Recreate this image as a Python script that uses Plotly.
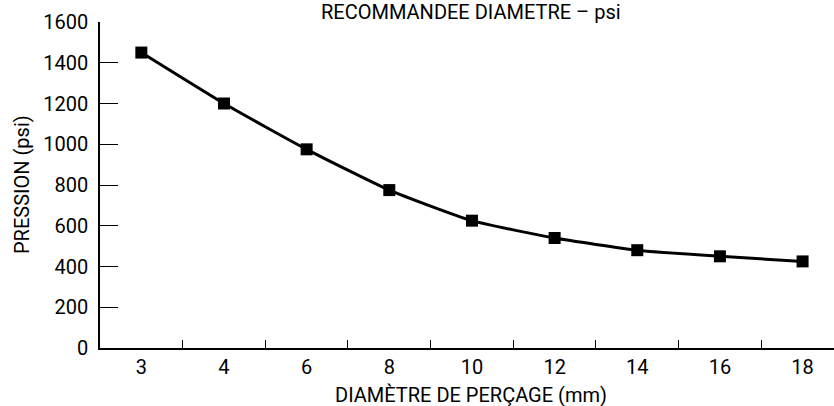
import plotly.graph_objects as go

diametres = ["3", "4", "6", "8", "10", "12", "14", "16", "18"]
pression = [1450, 1200, 975, 775, 625, 540, 480, 450, 425]
y_ticks = [0, 200, 400, 600, 800, 1000, 1200, 1400, 1600]

FONT = "Roboto, Liberation Sans Narrow, sans-serif"
FS = 20

fig = go.Figure()
fig.add_trace(go.Scatter(
    x=diametres, y=pression, mode="lines+markers",
    line=dict(color="black", width=3, shape="spline", smoothing=0.5),
    marker=dict(symbol="square", size=12, color="black"),
    showlegend=False,
))

fig.update_layout(
    width=834, height=406,
    margin=dict(l=100, r=0, t=22, b=58),
    plot_bgcolor="white", paper_bgcolor="white",
    font=dict(family=FONT, size=FS, color="black"),
    xaxis=dict(
        type="category", range=[-0.5, 8.38],
        showline=True, linecolor="black", linewidth=1.5,
        ticks="inside", tickson="boundaries", ticklen=8, tickcolor="black", tickwidth=1,
        showgrid=False, zeroline=False,
        tickfont=dict(family=FONT, size=FS),
    ),
    yaxis=dict(
        range=[0, 1600], tickvals=y_ticks,
        showline=True, linecolor="black", linewidth=1.5,
        ticks="inside", ticklen=18, tickcolor="black", tickwidth=1,
        showgrid=False, zeroline=False,
        tickfont=dict(family=FONT, size=FS),
        ticklabelstandoff=6,
    ),
    annotations=[
        dict(text="RECOMMANDEE DIAMETRE – psi", xref="paper", yref="paper",
             x=0.506, y=1.0, yshift=24, xanchor="center", yanchor="top",
             showarrow=False, font=dict(family=FONT, size=FS)),
        dict(text="DIAMÈTRE DE PERÇAGE (mm)", xref="paper", yref="paper",
             x=0.506, y=0, yshift=-33, xanchor="center", yanchor="top",
             showarrow=False, font=dict(family=FONT, size=FS)),
        dict(text="PRESSION (psi)", xref="paper", yref="paper",
             x=0, xshift=-78, y=0.5, xanchor="center", yanchor="middle",
             textangle=-90, showarrow=False, font=dict(family=FONT, size=FS)),
    ],
)

fig.write_html(
    "out.html",
    config={"displayModeBar": False},
    post_script="document.body.style.margin='0';document.body.style.overflow='hidden';",
)
